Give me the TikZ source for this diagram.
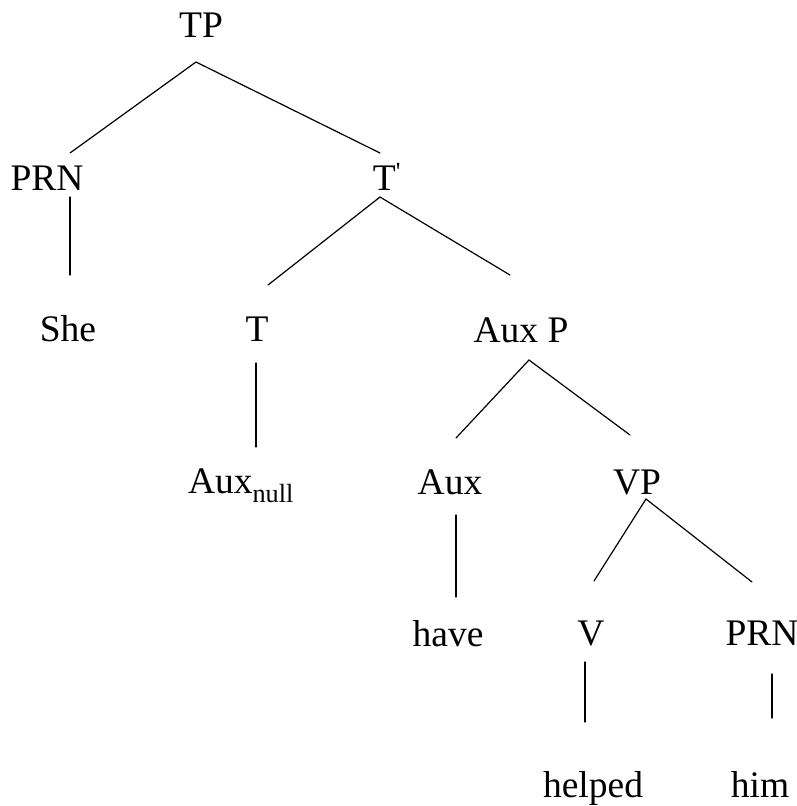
\documentclass[tikz,border=0pt]{standalone}
\usepackage{fontspec}
\setmainfont{Liberation Serif}
\begin{document}
\begin{tikzpicture}[x=1pt,y=-1pt,
  lbl/.style={anchor=base,inner sep=0pt,font=\fontsize{37.5}{40}\selectfont},
  branch/.style={line width=1.2pt,line cap=round}]
\useasboundingbox (0,0) rectangle (797,806);
% labels
\node[lbl] (TP) at (201,37) {TP};
\node[lbl] (PRNa) at (47,190) {PRN};
\node[lbl] (Tbar) at (387,190) {T\textsuperscript{\textquotesingle}};
\node[lbl] (She) at (68,341) {She};
\node[lbl] (T) at (257,341) {T};
\node[lbl] (AuxP) at (521,342) {Aux P};
\node[lbl] (Auxnull) at (241,493) {Aux\textsubscript{null}};
\node[lbl] (Aux) at (450,494) {Aux};
\node[lbl] (VP) at (637,494) {VP};
\node[lbl] (have) at (448,646) {have};
\node[lbl] (V) at (591,645) {V};
\node[lbl] (PRNb) at (762,645) {PRN};
\node[lbl] (helped) at (593,797) {helped};
\node[lbl] (him) at (760,797) {him};
% branch end points
\coordinate (TP-b) at (196,62);
\coordinate (PRNa-t) at (70,153);
\coordinate (Tbar-t) at (380,153);
\coordinate (PRNa-b) at (70,197);
\coordinate (She-t) at (70,275);
\coordinate (Tbar-b) at (380,197);
\coordinate (T-t) at (268,285);
\coordinate (AuxP-t) at (510,275);
\coordinate (T-b) at (256,363);
\coordinate (Auxnull-t) at (256,447);
\coordinate (AuxP-b) at (529,360);
\coordinate (Aux-t) at (456,438);
\coordinate (VP-t) at (630,435);
\coordinate (Aux-b) at (456,515);
\coordinate (have-t) at (456,597);
\coordinate (VP-b) at (646,499);
\coordinate (V-t) at (594,581);
\coordinate (PRNb-t) at (752,582);
\coordinate (V-b) at (585,662);
\coordinate (helped-t) at (585,722);
\coordinate (PRNb-b) at (772,674);
\coordinate (him-t) at (772,718);
% branches
\draw[branch] (PRNa-t) -- (TP-b) -- (Tbar-t);
\draw[branch] (PRNa-b) -- (She-t);
\draw[branch] (T-t) -- (Tbar-b) -- (AuxP-t);
\draw[branch] (T-b) -- (Auxnull-t);
\draw[branch] (Aux-t) -- (AuxP-b) -- (VP-t);
\draw[branch] (Aux-b) -- (have-t);
\draw[branch] (V-t) -- (VP-b) -- (PRNb-t);
\draw[branch] (V-b) -- (helped-t);
\draw[branch] (PRNb-b) -- (him-t);
\end{tikzpicture}
\end{document}
